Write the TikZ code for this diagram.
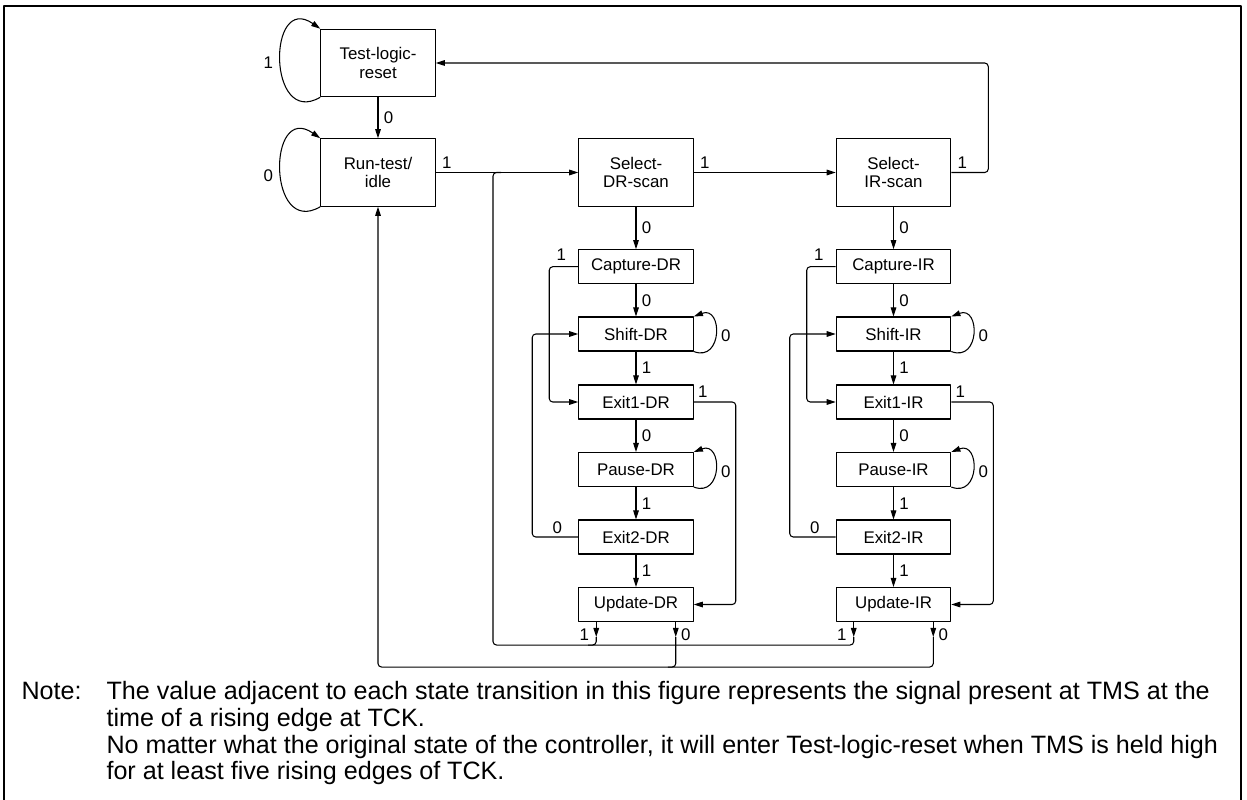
\documentclass[tikz,border=0pt]{standalone}
\usepackage{fontspec}
\setmainfont{Liberation Sans}
\usetikzlibrary{arrows.meta}

\tikzset{
  bigstate/.style={draw, minimum width=2.29cm, minimum height=1.35cm, align=center, inner sep=0pt},
  state/.style={draw, minimum width=2.29cm, minimum height=0.68cm, inner sep=0pt},
  lbl/.style={inner sep=0pt},
  notefont/.style={font=\fontsize{14.3}{15.3}\selectfont},
}

\begin{document}
\begin{tikzpicture}[x=0.02cm,y=-0.02cm,line width=0.6pt,line join=round,>={Triangle[length=5.2pt,width=3.2pt]},font=\fontsize{9.6}{10.7}\selectfont]
 	\useasboundingbox (0,0) rectangle (1247,800);
 	\draw (4,800) -- (4,6) -- (1241,6) -- (1241,800);
 	% reset and idle
 	\node[bigstate] (trst) at (378,63) {Test-logic-\\reset};
 	\node[bigstate] (rti) at (378,172.5) {Run-test/\\idle};
 	\draw[->] (trst) -- node[lbl,midway,right=3pt] {0} (rti);
 	\draw[->] (trst.south west) .. controls +(-53,31) and +(-53,-37) .. (trst.north west);
 	\draw[->] (rti.south west) .. controls +(-53,31) and +(-53,-37) .. (rti.north west);
 	\node[lbl] at ([shift={(-52,0)}]trst.west) {1};
 	\node[lbl] at ([shift={(-52,3)}]rti.west) {0};
 	% DR and IR columns
 	\foreach \c/\x in {DR/636,IR/893.5}{
 	  \node[bigstate] (sel\c) at (\x,172.5) {Select-\\\c-scan};
 	  \node[state] (cap\c) at (\x,266.7) {Capture-\c};
 	  \node[state] (shift\c) at (\x,334) {Shift-\c};
 	  \node[state] (exa\c) at (\x,402) {Exit1-\c};
 	  \node[state] (pause\c) at (\x,469.5) {Pause-\c};
 	  \node[state] (exb\c) at (\x,537) {Exit2-\c};
 	  \node[state] (upd\c) at (\x,604.5) {Update-\c};
 	  \foreach \a/\b/\v in {sel/cap/0,cap/shift/0,shift/exa/1,exa/pause/0,pause/exb/1,exb/upd/1}
 	    \draw[->] (\a\c) -- node[lbl,midway,right=3pt] {\v} (\b\c);
 	  \foreach \s in {shift,pause}{
 	    \draw[->] (\s\c.south east) .. controls +(29,11) and +(29,-11) .. (\s\c.north east);
 	    \node[lbl] at ([shift={(32,2)}]\s\c.east) {0};
 	  }
 	  \draw[->,rounded corners=2pt] (cap\c.west) -- ++(-29,0) |- (exa\c.west);
 	  \draw[->,rounded corners=2pt] (exb\c.west) -- ++(-46,0) |- (shift\c.west);
 	  \draw[->,rounded corners=2pt] (exa\c.east) -- ++(42,0) |- (upd\c.east);
 	  \node[lbl] at ([shift={(-17,-12)}]cap\c.west) {1};
 	  \node[lbl] at ([shift={(-21,-9)}]exb\c.west) {0};
 	  \node[lbl] at ([shift={(9,-10)}]exa\c.east) {1};
 	  \node[lbl] at ([shift={(11,-10)}]sel\c.east) {1};
 	  % exits of update
 	  \coordinate (one\c) at ([shift={(18,15)}]upd\c.south west);
 	  \coordinate (zero\c) at ([shift={(-18,15)}]upd\c.south east);
 	  \draw[->] (upd\c.south -| one\c) -- (one\c);
 	  \draw[->] (upd\c.south -| zero\c) -- (zero\c);
 	  \node[lbl] at ([shift={(6,13)}]upd\c.south west) {1};
 	  \node[lbl] at ([shift={(-8,13)}]upd\c.south east) {0};
 	}
 	\node[lbl] at ([shift={(11,-10)}]rti.east) {1};
 	\draw[->] (rti) -- (selDR);
 	\draw[->] (selDR) -- (selIR);
 	\draw[->,rounded corners=2pt] (selIR.east) -- ++(37,0) |- (trst.east);
 	% back lines at the bottom
 	\coordinate (jn) at (493,172.5);
 	\draw[rounded corners=2pt] (oneIR) -- ++(0,8) -| (jn) -- ++(8,0);
 	\draw[rounded corners=2pt] (oneDR) |- ++(-8,8);
 	\draw[->,rounded corners=2pt] (zeroIR) -- ++(0,30) -| (rti.south);
 	\draw[rounded corners=2pt] (zeroDR) |- ++(-8,30);
 	% note
 	\node[notefont,anchor=base west,inner sep=0pt] (notehead) at (21,699) {Note:};
 	\node[notefont,anchor=north west,inner sep=0pt,align=left] (notetext) at (106,680.5) {The value adjacent to each state transition in this figure represents the signal present at TMS at the\\time of a rising edge at TCK.\\No matter what the original state of the controller, it will enter Test-logic-reset when TMS is held high\\for at least five rising edges of TCK.};
\end{tikzpicture}
\end{document}
